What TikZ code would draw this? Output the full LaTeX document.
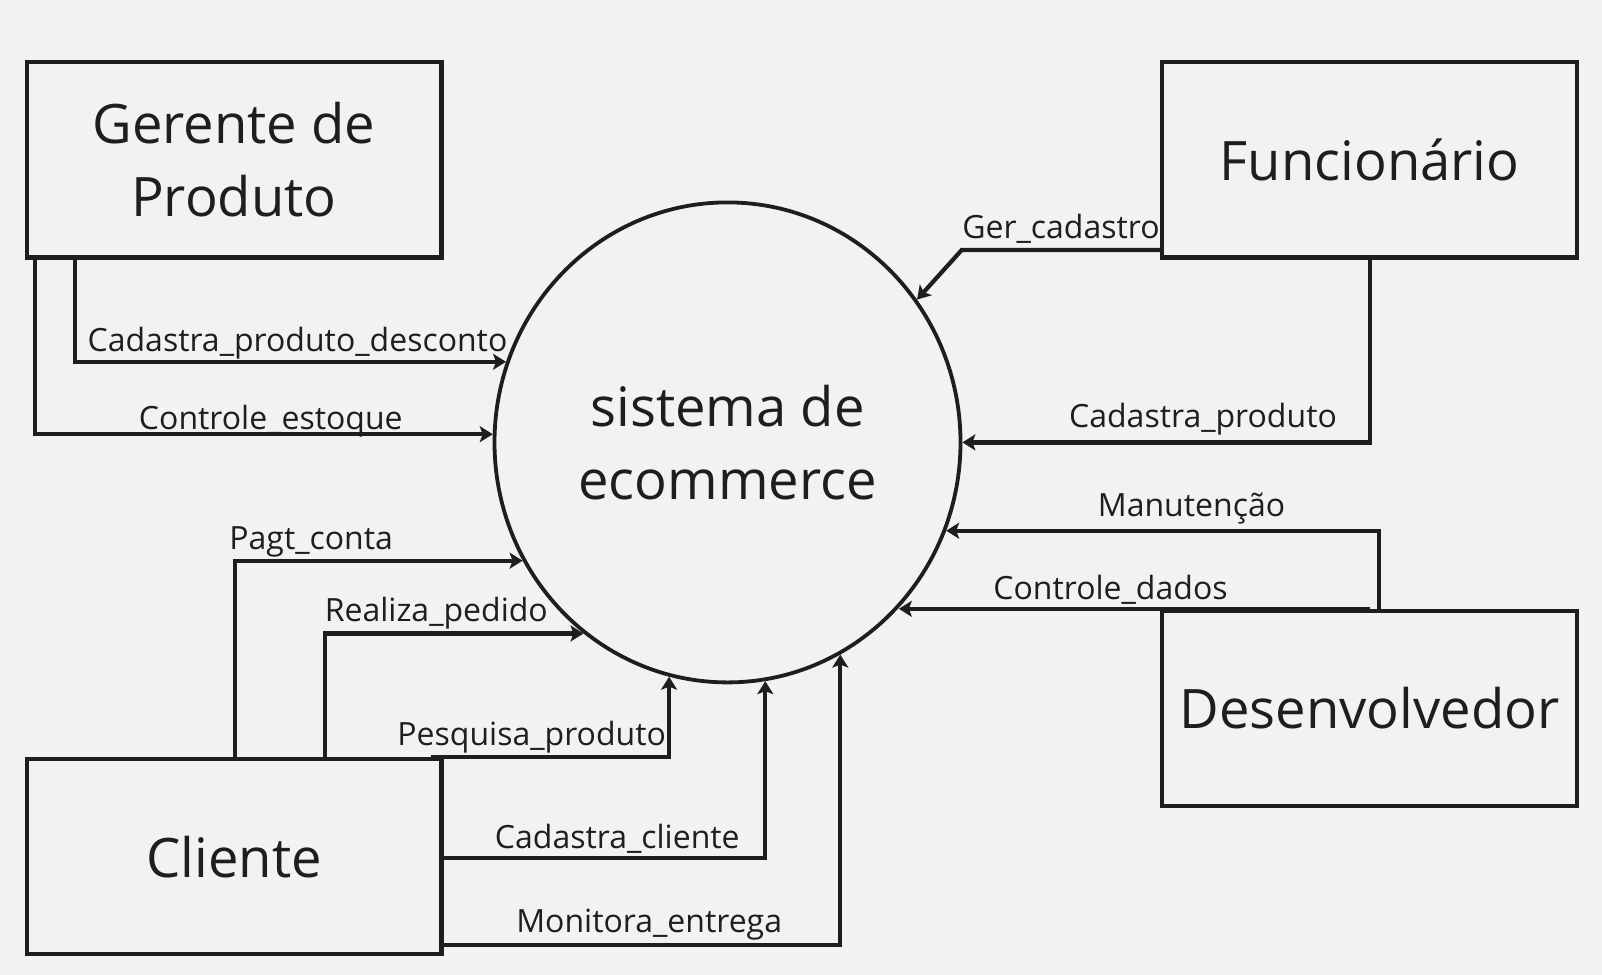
\documentclass[tikz,border=0pt]{standalone}
\usepackage{fontspec}
\setmainfont{Open Sans}
\usetikzlibrary{arrows.meta,shapes.geometric}
\definecolor{bg}{HTML}{F2F2F2}
\definecolor{ink}{HTML}{1E1E1E}
\begin{document}
\begin{tikzpicture}[x=0.5pt,y=-0.5pt,
  entity/.style={draw=ink,line width=2.1pt,minimum width=207.4pt,minimum height=97.6pt,inner sep=0pt,
    font=\fontsize{27.2}{36.35}\selectfont,align=center,text=ink},
  proc/.style={ellipse,draw=ink,line width=1.9pt,minimum width=233pt,minimum height=240pt,inner sep=0pt,
    font=\fontsize{27.2}{36.65}\selectfont,align=center,text=ink},
  flow/.style={draw=ink,line width=2.1pt,-{Stealth[length=6.5pt,width=8pt,inset=1.5pt]}},
  lbl/.style={font=\fontsize{16}{19}\selectfont,text=ink,anchor=base,inner sep=0pt}]
\fill[bg] (0,0) rectangle (1602,975);
\useasboundingbox (0,0) rectangle (1602,975);

\node[entity] (ger) at (234,159.9) {Gerente de\\Produto};
\node[entity] (fun) at (1369.6,159.9) {Funcionário};
\node[entity] (dev) at (1369.6,708.5) {Desenvolvedor};
\node[entity] (cli) at (234,856.6) {Cliente};
\node[proc] (sys) at (727.5,442.4) {sistema de\\ecommerce};

\coordinate (gc) at (961.7,250);

\draw[flow] ([xshift=-79.5pt]ger.south) |- (sys.160.5);
\draw[flow] ([xshift=-99.5pt]ger.south) |- (sys.178.7);
\draw[flow] ([yshift=-45pt]fun.west) -- (gc) -- (sys.37.4);
\draw[flow] (fun.south) |- (sys.east);
\draw[flow] ([xshift=4.7pt]dev.north) |- (sys.-22.2);
\draw[flow] (dev.north) -- (dev.north -| sys.-44.9);
\draw[flow] ([xshift=0.5pt]cli.north) |- (sys.-150);
\draw[flow] ([xshift=45.5pt]cli.north) |- (sys.233.4);
\draw[flow] ([xshift=-6.5pt]cli.north east) -| (sys.256.8);
\draw[flow] ([yshift=-0.75pt]cli.east) -| (sys.-81.2);
\draw[flow] ([yshift=-44.2pt]cli.east) -| (sys.-62);

\node[lbl] (l1) at (297.5,351) {Cadastra\_produto\_desconto};
\node[lbl] (l2) at (270.8,429.3) {Controle\_estoque};
\node[lbl] (l3) at (1061,238.3) {Ger\_cadastro};
\node[lbl] (l4) at (1203,427.3) {Cadastra\_produto};
\node[lbl] (l5) at (1191.5,516.7) {Manutenção};
\node[lbl] (l6) at (1110.5,599) {Controle\_dados};
\node[lbl] (l7) at (311.2,549.3) {Pagt\_conta};
\node[lbl] (l8) at (436.3,621.7) {Realiza\_pedido};
\node[lbl] (l9) at (531.7,745) {Pesquisa\_produto};
\node[lbl] (l10) at (617.3,848.3) {Cadastra\_cliente};
\node[lbl] (l11) at (649.2,932.3) {Monitora\_entrega};
\end{tikzpicture}
\end{document}
